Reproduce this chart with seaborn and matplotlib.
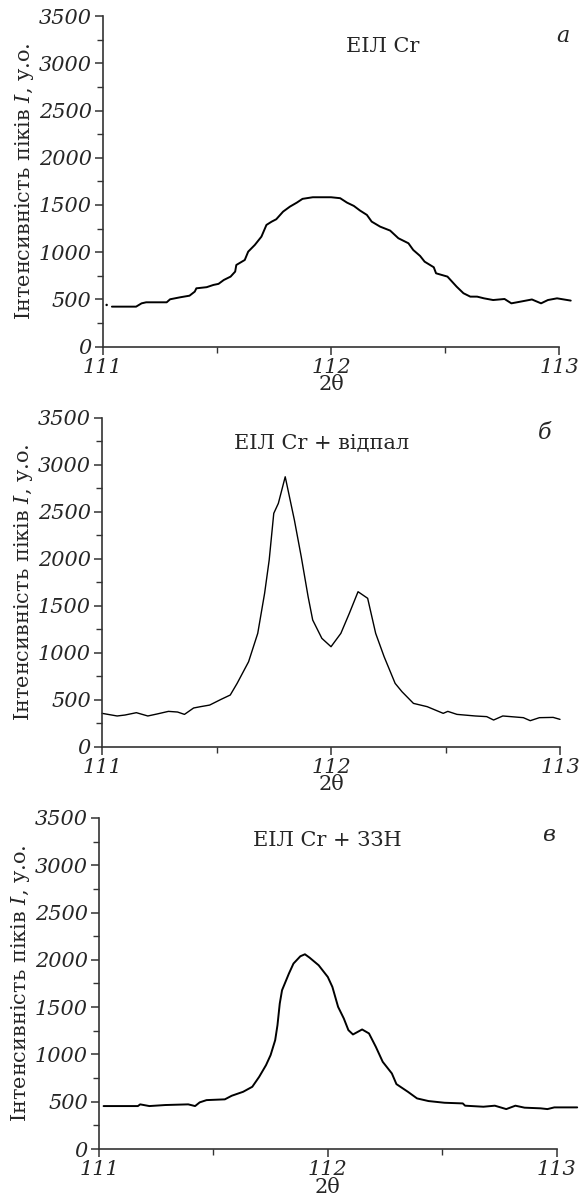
import matplotlib
matplotlib.use("Agg")
import matplotlib.pyplot as plt
import seaborn as sns
from matplotlib.ticker import MultipleLocator

# panel a: ЕІЛ Cr
x_a = [111.04, 111.146, 111.17, 111.19, 111.28, 111.295, 111.339, 111.38, 111.403,
       111.41, 111.455, 111.485, 111.507, 111.53, 111.56, 111.58, 111.585, 111.622,
       111.637, 111.666, 111.695, 111.717, 111.74, 111.76, 111.79, 111.82, 111.85,
       111.875, 111.92, 112.0, 112.04, 112.07, 112.1, 112.127, 112.157, 112.178,
       112.215, 112.259, 112.295, 112.339, 112.36, 112.39, 112.41, 112.45, 112.46,
       112.51, 112.53, 112.55, 112.58, 112.61, 112.64, 112.67, 112.71, 112.76,
       112.79, 112.83, 112.88, 112.92, 112.95, 112.99, 113.05]
y_a = [424, 424, 459, 470, 470, 502, 523, 540, 583,
       618, 630, 654, 665, 706, 742, 795, 865, 918,
       1006, 1077, 1165, 1289, 1324, 1349, 1430, 1483, 1525,
       1565, 1582, 1582, 1572, 1525, 1490, 1441, 1395, 1324,
       1271, 1229, 1148, 1095, 1024, 961, 900, 841, 777,
       742, 689, 636, 566, 530, 530, 512, 494, 505,
       459, 477, 500, 459, 494, 512, 488]

# panel б: ЕІЛ Cr + відпал
x_b = [111.0, 111.066, 111.1, 111.15, 111.2, 111.24, 111.29, 111.33, 111.36, 111.4,
       111.43, 111.47, 111.52, 111.56, 111.59, 111.64, 111.68, 111.71, 111.73, 111.75,
       111.77, 111.80, 111.84, 111.87, 111.9, 111.92, 111.96, 112.0, 112.043, 112.08,
       112.118, 112.16, 112.195, 112.232, 112.28, 112.31, 112.36, 112.42, 112.49,
       112.51, 112.55, 112.63, 112.68, 112.71, 112.75, 112.84, 112.87, 112.91,
       112.97, 113.0]
y_b = [355, 327, 337, 362, 327, 348, 376, 369, 344, 412,
       426, 443, 504, 550, 674, 904, 1206, 1632, 1986, 2483,
       2589, 2872, 2412, 2021, 1596, 1348, 1153, 1064, 1206, 1419,
       1649, 1579, 1206, 957, 674, 585, 461, 426, 355,
       376, 344, 327, 320, 284, 327, 309, 277, 309,
       312, 291]

# panel в: ЕІЛ Cr + ЗЗН
x_c = [111.02, 111.17, 111.18, 111.22, 111.29, 111.39, 111.42, 111.44, 111.47, 111.55,
       111.58, 111.63, 111.67, 111.7, 111.73, 111.75, 111.77, 111.78, 111.79, 111.8,
       111.83, 111.85, 111.88, 111.9, 111.92, 111.96, 112.0, 112.02, 112.045, 112.07,
       112.09, 112.11, 112.15, 112.18, 112.21, 112.24, 112.28, 112.3, 112.35, 112.39,
       112.44, 112.51, 112.59, 112.6, 112.68, 112.73, 112.78, 112.82, 112.86, 112.93,
       112.96, 112.99, 113.09]
y_c = [454, 454, 472, 454, 465, 472, 454, 493, 517, 525,
       563, 605, 658, 763, 887, 993, 1151, 1309, 1538, 1679,
       1855, 1961, 2038, 2059, 2024, 1943, 1819, 1714, 1503, 1380,
       1257, 1211, 1264, 1222, 1080, 922, 799, 686, 605, 535,
       507, 489, 482, 458, 447, 458, 422, 458, 437, 430,
       422, 440, 440]

titles = ["ЕІЛ Cr", "ЕІЛ Cr + відпал", "ЕІЛ Cr + ЗЗН"]
letters = ["a", "б", "в"]
xticks = [111, 112, 113]

sns.set_theme(style="ticks")
plt.rcParams["font.family"] = ["DejaVu Serif"]
plt.rcParams["mathtext.fontset"] = "dejavuserif"

fig = plt.figure(figsize=(5.79, 11.98), dpi=100)
boxes = [
    [0.1775, 0.7106, 0.7885, 0.2760],
    [0.1762, 0.3767, 0.7910, 0.2746],
    [0.1710, 0.0409, 0.7903, 0.2763],
]
title_pos = [(0.614, 0.907), (0.48, 0.923), (0.498, 0.933)]
letter_pos = [(1.008, 0.94), (0.967, 0.953), (0.983, 0.949)]
series = [(x_a, y_a, 1.4), (x_b, y_b, 1.0), (x_c, y_c, 1.4)]

for i, box in enumerate(boxes):
    ax = fig.add_axes(box)
    xs, ys, lw = series[i]
    sns.lineplot(x=xs, y=ys, ax=ax, color="black", linewidth=lw, clip_on=False)
    if i == 0:
        sns.scatterplot(x=[111.017], y=[442], ax=ax, color="black", s=3,
                        edgecolor="none", clip_on=False)
    ax.set_xlim(111, 113)
    ax.set_ylim(0, 3500)
    ax.xaxis.set_minor_locator(MultipleLocator(0.5))
    ax.yaxis.set_major_locator(MultipleLocator(500))
    ax.yaxis.set_minor_locator(MultipleLocator(250))
    ax.set_xticks(xticks)
    ax.set_xticklabels([str(t) for t in xticks])
    for lab in ax.get_xticklabels() + ax.get_yticklabels():
        lab.set_fontstyle("italic")
        lab.set_fontsize(15)
    ax.tick_params(which="major", length=6, width=1.1, color="#333333", pad=2)
    ax.tick_params(which="minor", length=4, width=1.0, color="#333333")
    sns.despine(ax=ax)
    for s in ("left", "bottom"):
        ax.spines[s].set_linewidth(1.2)
        ax.spines[s].set_color("#333333")
    ax.set_xlabel("2θ", fontsize=15, labelpad=-1)
    ax.set_ylabel("Інтенсивність піків $I$, у.о.", fontsize=15, labelpad=2)
    ax.text(*title_pos[i], titles[i], transform=ax.transAxes, fontsize=15,
            ha="center", va="center")
    ax.text(*letter_pos[i], letters[i], transform=ax.transAxes, fontsize=16,
            style="italic", ha="center", va="center")

fig.savefig("out.png", dpi=100)
